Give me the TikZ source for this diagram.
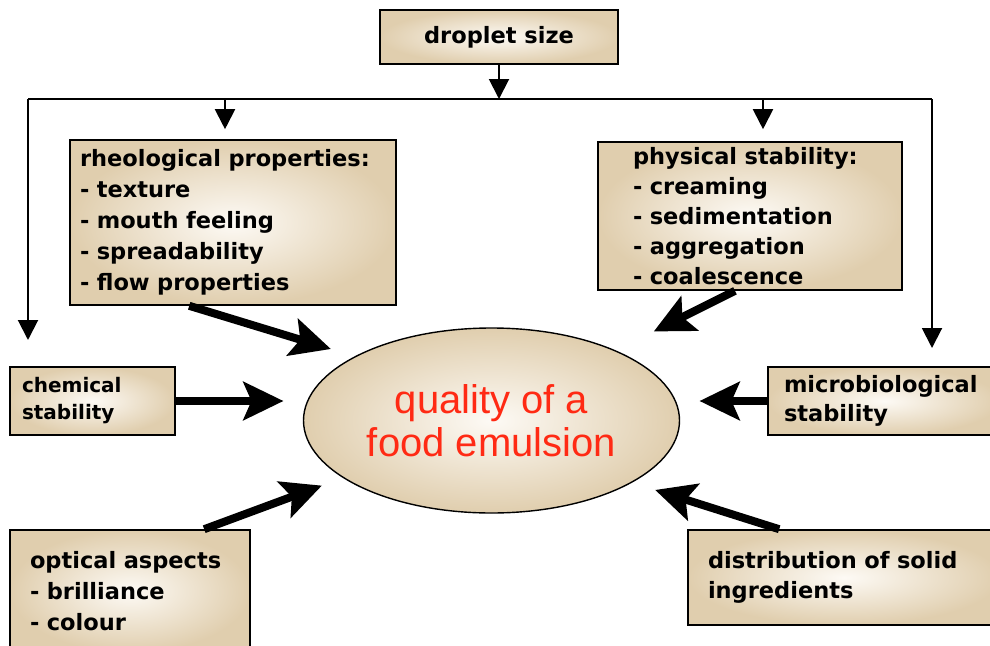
\documentclass[tikz,border=0pt]{standalone}
\usepackage{fontspec}
\setmainfont{DejaVu Sans}
\newfontfamily\redfont{Liberation Sans}
\usetikzlibrary{positioning, arrows.meta, shapes.geometric, calc}
\definecolor{beige}{HTML}{E0CEAE}
\definecolor{beigelight}{HTML}{FDFAF5}
\definecolor{emred}{HTML}{FF2A14}

\begin{document}
\begin{tikzpicture}[
    x=1pt, y=-1pt,
    fbox/.style={draw=black, line width=1.6pt, outer color=beige, inner color=beigelight,
        font=\fontsize{22.5}{31}\selectfont\bfseries, align=left, inner ysep=0pt},
    small/.style={font=\fontsize{20}{27}\selectfont\bfseries},
    core/.style={ellipse, draw=black, line width=1.4pt, outer color=beige, inner color=beigelight,
        minimum width=376pt, minimum height=185pt, outer sep=20pt, inner sep=0pt,
        text=emred, font=\redfont\fontsize{40}{43}\selectfont, align=center},
    feed/.style={line width=2pt, -{Triangle[width=20pt,length=20pt]}},
    push/.style={line width=8pt, -{Stealth[width=38pt,length=40pt,inset=8pt]}},
]
\useasboundingbox (0,0) rectangle (990,645);

% boxes
\node[fbox, align=center, minimum width=238pt, minimum height=54pt] (drop) at (499,37) {droplet size};
\node[fbox, inner xsep=10pt, text width=306pt, minimum height=165pt] (rheo) at (233,222.5)
    {rheological properties:\\- texture\\- mouth feeling\\- spreadability\\- flow properties};
\node[fbox, inner xsep=35pt, text width=234pt, minimum height=148pt,
    font=\fontsize{22.5}{30}\selectfont\bfseries] (phys) at (750,216)
    {physical stability:\\- creaming\\- sedimentation\\- aggregation\\- coalescence};
\node[fbox, small, inner xsep=12pt, text width=141pt, minimum height=68pt] (chem) at (92.5,401)
    {chemical\\stability};
\node[fbox, font=\fontsize{22.5}{29}\selectfont\bfseries, inner xsep=16pt, text width=200pt,
    minimum height=68pt] (micro) at (884,401) {microbiological\\stability};
\node[fbox, inner xsep=20pt, text width=200pt, minimum height=122pt] (opt) at (130,591)
    {optical aspects\\- brilliance\\- colour};
\node[fbox, font=\fontsize{22.5}{30}\selectfont\bfseries, inner xsep=20pt, text width=272pt,
    minimum height=95pt] (dist) at (844,577.5) {distribution of solid\\ingredients};

\node[core] (emul) at (491.5,420.5) {quality of a\\food emulsion};

% droplet size feeds
\coordinate (busL) at (28,99);
\coordinate (busR) at (932,99);
\coordinate (chemDrop) at (28,340);
\coordinate (microDrop) at (932,348);
\coordinate (rheoIn) at ([xshift=-8pt,yshift=10pt]rheo.north);
\coordinate (physIn) at ([xshift=13pt,yshift=12pt]phys.north);
\draw[line width=2pt] (busL) -- (busR);
\draw[feed] (drop) -- (drop |- busL);
\draw[feed] (busL) -- (chemDrop);
\draw[feed] (busR) -- (microDrop);
\draw[feed] (rheoIn |- busL) -- (rheoIn);
\draw[feed] (physIn |- busL) -- (physIn);

% into the emulsion
\draw[push] ([xshift=120pt]rheo.south west) -- (emul.156.5);
\draw[push, shorten >=19pt] ([xshift=-15pt]phys.south) -- (emul.29.4);
\draw[push] (chem) -- (chem -| emul.west);
\draw[push] (micro) -- (micro -| emul.east);
\draw[push] ([xshift=195pt]opt.north west) -- (emul.201.7);
\draw[push] ([xshift=92pt]dist.north west) -- (emul.337.6);

\end{tikzpicture}
\end{document}
